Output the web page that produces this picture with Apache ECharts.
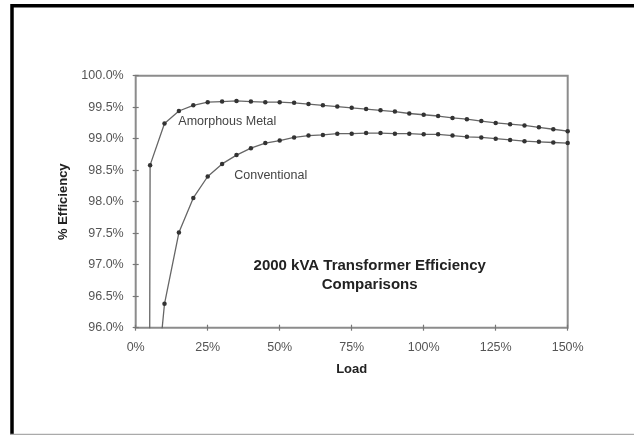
<!DOCTYPE html>
<html><head><meta charset="utf-8">
<script src="https://cdn.jsdelivr.net/npm/echarts@6/dist/echarts.min.js"></script>
<style>html,body{margin:0;padding:0;background:#fff}#c{width:634px;height:435px}</style>
</head><body><div id="c"></div>
<script>
// ---- data ----
const loads = [0,5,10,15,20,25,30,35,40,45,50,55,60,65,70,75,80,85,90,95,100,105,110,115,120,125,130,135,140,145,150];
const amorphous = [0,98.58,99.24,99.44,99.53,99.58,99.59,99.60,99.59,99.58,99.58,99.57,99.55,99.53,99.51,99.49,99.47,99.45,99.43,99.40,99.38,99.36,99.33,99.31,99.28,99.25,99.23,99.21,99.18,99.15,99.12];
const conventional = [0,94.0,96.38,97.51,98.06,98.40,98.60,98.74,98.85,98.93,98.97,99.02,99.05,99.06,99.08,99.08,99.09,99.09,99.08,99.08,99.07,99.07,99.05,99.03,99.02,99.00,98.98,98.96,98.95,98.94,98.93];
const xTicks = [0,25,50,75,100,125,150];
const yTicks = [96,96.5,97,97.5,98,98.5,99,99.5,100];
const seriesNames = ['Amorphous Metal','Conventional'];
const seriesLabelAt = [[14.8,99.27],[34.2,98.42]];
const titleLines = ['2000 kVA Transformer Efficiency','Comparisons'];
const xName = 'Load';
const yName = '% Efficiency';

const chart = echarts.init(document.getElementById('c'), null, {renderer:'canvas'});
const font = '"Liberation Sans", Arial, Helvetica, sans-serif';
const pairs = arr => loads.map((x,i)=>[x, arr[i]]);
const mkSeries = (name, arr, lblAt) => ({
  type:'line', name, data: pairs(arr), clip:true,
  symbol:'circle', symbolSize:4.5, showAllSymbol:true,
  lineStyle:{color:'#666', width:1.3},
  itemStyle:{color:'#333'},
  emphasis:{disabled:true},
  markPoint:{
    symbol:'circle', symbolSize:0, animation:false,
    label:{show:true, position:'right', distance:0, formatter:name, color:'#444', fontSize:12.5, fontFamily:font},
    data:[{coord:lblAt}]
  }
});
chart.setOption({
  animation:false,
  backgroundColor:'#fff',
  grid:{left:135.7, right:66.3, top:75.7, bottom:107.3, show:true, borderColor:'#8c8c8c', borderWidth:2, outerBoundsMode:'none', containLabel:false},
  xAxis:{type:'value', min:xTicks[0], max:xTicks[xTicks.length-1], interval:xTicks[1]-xTicks[0],
    offset:-3,
    axisLine:{show:false},
    axisTick:{show:true, inside:false, length:6, lineStyle:{color:'#777', width:1.2}},
    axisLabel:{margin:16, color:'#555', fontSize:12.5, fontFamily:font, formatter:v=>v+'%'},
    splitLine:{show:false},
    name:xName, nameLocation:'middle', nameGap:38,
    nameTextStyle:{fontWeight:'bold', fontSize:13, color:'#222', fontFamily:font}
  },
  yAxis:{type:'value', min:yTicks[0], max:yTicks[yTicks.length-1], interval:yTicks[1]-yTicks[0],
    offset:-3,
    axisLine:{show:false},
    axisTick:{show:true, inside:false, length:6, lineStyle:{color:'#777', width:1.2}},
    axisLabel:{margin:15, color:'#555', fontSize:12.5, fontFamily:font, formatter:v=>v.toFixed(1)+'%'},
    splitLine:{show:false},
    name:yName, nameLocation:'middle', nameGap:66, nameRotate:90,
    nameTextStyle:{fontWeight:'bold', fontSize:13, color:'#222', fontFamily:font}
  },
  series:[mkSeries(seriesNames[0], amorphous, seriesLabelAt[0]), mkSeries(seriesNames[1], conventional, seriesLabelAt[1])],
  graphic:[
    {type:'rect', shape:{x:12, y:5.7, width:900, height:900}, style:{fill:null, stroke:'#000', lineWidth:3.5}, silent:true},
    {type:'line', shape:{x1:10, y1:434.5, x2:634, y2:434.5}, style:{stroke:'#aaa', lineWidth:1.5}, silent:true},
    {type:'text', x:369.7, y:275, silent:true,
      style:{text:titleLines.join('\n'), align:'center', verticalAlign:'middle', lineHeight:19,
        font:'bold 15px "Liberation Sans", Arial, sans-serif', fill:'#222'}}
  ]
});
</script></body></html>
